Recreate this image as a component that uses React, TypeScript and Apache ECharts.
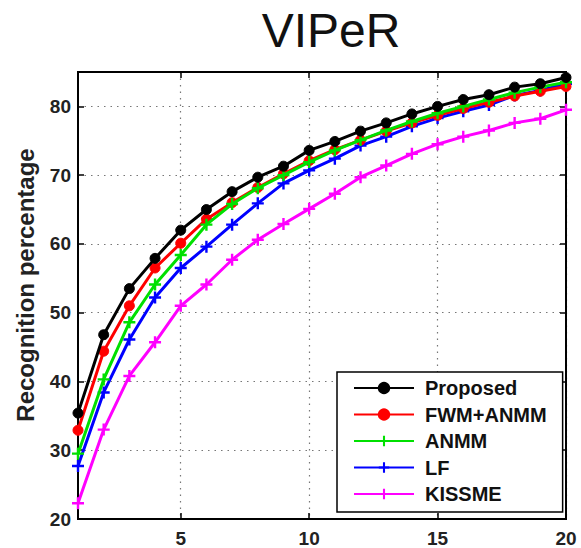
import React, { useEffect, useRef } from "react";
import * as echarts from "echarts";

const ranks = [1, 2, 3, 4, 5, 6, 7, 8, 9, 10, 11, 12, 13, 14, 15, 16, 17, 18, 19, 20];
const proposed = [35.4, 46.8, 53.5, 57.9, 62.0, 65.0, 67.6, 69.7, 71.3, 73.6, 74.9, 76.4, 77.6, 78.9, 80.0, 81.0, 81.7, 82.8, 83.3, 84.2];
const fwmAnmm = [32.9, 44.4, 51.0, 56.5, 60.1, 63.6, 66.0, 68.2, 70.2, 72.1, 73.7, 75.1, 76.4, 77.6, 78.7, 79.7, 80.6, 81.5, 82.2, 82.9];
const anmm = [29.5, 40.3, 48.6, 54.1, 58.4, 62.8, 65.8, 68.1, 70.0, 71.9, 73.6, 75.1, 76.5, 77.8, 79.0, 80.0, 81.0, 82.0, 82.8, 83.5];
const lf = [27.7, 38.4, 46.1, 52.2, 56.5, 59.6, 62.8, 65.9, 68.8, 70.7, 72.4, 74.3, 75.6, 77.1, 78.3, 79.3, 80.2, 81.6, 82.3, 83.3];
const kissme = [22.3, 33.0, 40.8, 45.7, 51.0, 54.1, 57.7, 60.6, 62.9, 65.1, 67.3, 69.7, 71.4, 73.1, 74.5, 75.6, 76.5, 77.6, 78.2, 79.5];

const xTicks = [5, 10, 15, 20];
const yTicks = [20, 30, 40, 50, 60, 70, 80];
const yTitle = "Recognition percentage";

const PLUS = "path://M4,0H6V4H10V6H6V10H4V6H0V4H4Z";
const FONT = "Liberation Sans, Arial, sans-serif";

export default function App() {
  const ref = useRef<HTMLDivElement>(null);
  useEffect(() => {
    if (!ref.current) return;
    const chart = echarts.init(ref.current, undefined, { renderer: "svg" });
    const mk = (name: string, vals: number[], color: string, symbol: string, size: number, z: number) => ({
      name,
      type: "line",
      data: ranks.map((r, i) => [r, vals[i]]),
      symbol,
      symbolSize: size,
      z,
      lineStyle: { color, width: 3 },
      itemStyle: { color, borderColor: color, borderWidth: symbol === "circle" ? 1 : 0 },
      emphasis: { disabled: true },
    });
    const splitLine = { show: true, lineStyle: { color: "#777", type: [1.5, 5], width: 1.2 } };
    const labelStyle = { fontFamily: FONT, fontSize: 19, fontWeight: "bold", color: "#222" };
    chart.setOption({
      animation: false,
      title: {
        text: "VIPeR",
        left: 326,
        textAlign: "center",
        top: 1,
        textStyle: { fontFamily: FONT, fontSize: 48, fontWeight: "normal", color: "#111" },
      },
      graphic: [
        {
          type: "text",
          x: 25,
          y: 285,
          rotation: Math.PI / 2,
          style: {
            text: yTitle,
            fontFamily: FONT,
            fontSize: 24,
            fontWeight: "bold",
            fill: "#222",
            align: "center",
            verticalAlign: "middle",
          },
        },
      ],
      grid: {
        left: 78,
        right: 15,
        top: 72,
        bottom: 27,
        show: true,
        borderColor: "#000",
        borderWidth: 2,
        backgroundColor: "#fff",
      },
      legend: {
        orient: "vertical",
        left: 337,
        top: 372,
        backgroundColor: "#fff",
        borderColor: "#000",
        borderWidth: 1.5,
        borderRadius: 0,
        padding: [6, 16, 8, 16],
        itemWidth: 60,
        itemHeight: 13,
        itemGap: 6.5,
        textStyle: { fontFamily: FONT, fontSize: 20, fontWeight: "bold", color: "#111", padding: [0, 0, 0, 6] },
        data: ["Proposed", "FWM+ANMM", "ANMM", "LF", "KISSME"],
      },
      xAxis: [
        {
          type: "value",
          min: 1,
          max: 20,
          position: "bottom",
          axisLine: { show: true, lineStyle: { color: "#000", width: 2 } },
          axisTick: { show: true, inside: true, length: 6, customValues: xTicks, lineStyle: { color: "#000", width: 1.5 } },
          axisLabel: { customValues: xTicks, margin: 10, ...labelStyle },
          splitLine,
        },
        {
          type: "value",
          min: 1,
          max: 20,
          position: "top",
          axisLine: { show: true, lineStyle: { color: "#000", width: 2 } },
          axisTick: { show: true, inside: true, length: 6, customValues: xTicks, lineStyle: { color: "#000", width: 1.5 } },
          axisLabel: { show: false },
          splitLine: { show: false },
        },
      ],
      yAxis: [
        {
          type: "value",
          min: 20,
          max: 85,
          position: "left",
          axisLine: { show: true, lineStyle: { color: "#000", width: 2 } },
          axisTick: { show: true, inside: true, length: 6, customValues: yTicks, lineStyle: { color: "#000", width: 1.5 } },
          axisLabel: { customValues: yTicks, margin: 7, ...labelStyle },
          splitLine,
        },
        {
          type: "value",
          min: 20,
          max: 85,
          position: "right",
          axisLine: { show: true, lineStyle: { color: "#000", width: 2 } },
          axisTick: { show: true, inside: true, length: 6, customValues: yTicks, lineStyle: { color: "#000", width: 1.5 } },
          axisLabel: { show: false },
          splitLine: { show: false },
        },
      ],
      series: [
        mk("KISSME", kissme, "#ff00ff", PLUS, 12, 2),
        mk("LF", lf, "#0000ff", PLUS, 12, 3),
        mk("FWM+ANMM", fwmAnmm, "#ff0000", "circle", 10, 4),
        mk("ANMM", anmm, "#00e000", PLUS, 12, 5),
        mk("Proposed", proposed, "#000000", "circle", 10, 6),
      ],
    });
    return () => chart.dispose();
  }, []);
  return <div ref={ref} style={{ position: "fixed", left: 0, top: 0, width: 581, height: 548, background: "#fff" }} />;
}
